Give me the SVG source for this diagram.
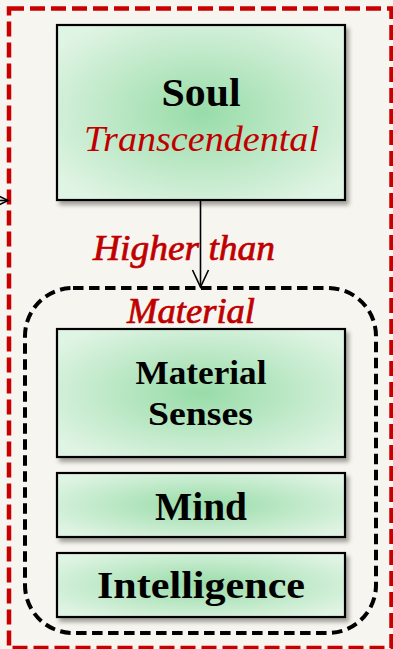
<svg xmlns="http://www.w3.org/2000/svg" width="393" height="649" viewBox="0 0 393 649">
<defs>
<radialGradient id="g" cx="0.5" cy="0.5" r="0.62">
<stop offset="0" stop-color="#98dca8"/>
<stop offset="1" stop-color="#e0f4e4"/>
</radialGradient>
<filter id="sh" x="-10%" y="-10%" width="125%" height="130%">
<feDropShadow dx="3" dy="4" stdDeviation="2" flood-color="#000" flood-opacity="0.35"/>
</filter>
<marker id="ah" viewBox="0 0 20 20" refX="18" refY="10" markerWidth="20" markerHeight="20" markerUnits="userSpaceOnUse" orient="auto">
<path d="M1,2 L18,10 L1,18" fill="none" stroke="#000" stroke-width="1.6"/>
</marker>
</defs>
<style>
.box{fill:url(#g);stroke:#000;stroke-width:2.2;filter:url(#sh)}
.t{font-family:"Liberation Serif",serif;font-weight:bold;fill:#000;text-anchor:middle}
.r{font-family:"Liberation Serif",serif;font-style:italic;fill:#c00000;text-anchor:middle}
.rb{stroke:#c00000;stroke-width:0.7}
.con{fill:none;stroke:#000;stroke-width:1.6}
</style>
<rect x="0" y="0" width="393" height="649" fill="#f7f5ef"/>
<g id="outer">
<rect x="9" y="8.5" width="382.5" height="639.5" fill="none" stroke="#c80000" stroke-width="4.5" stroke-dasharray="15 6"/>
</g>
<g id="material-group">
<rect x="25" y="288" width="351" height="345" rx="48" ry="48" fill="none" stroke="#000" stroke-width="4" stroke-dasharray="10.5 5.5"/>
</g>
<g id="connectors">
<line class="con" x1="200.5" y1="200" x2="200.5" y2="287" marker-end="url(#ah)"/>
<line class="con" x1="-6" y1="200.5" x2="8" y2="200.5" marker-end="url(#ah)"/>
</g>
<g id="soul">
<rect class="box" x="57" y="25" width="288" height="175"/>
<text class="t" x="201" y="106" font-size="40" textLength="79" lengthAdjust="spacingAndGlyphs">Soul</text>
<text class="r" x="201.5" y="151" font-size="36" textLength="235" lengthAdjust="spacingAndGlyphs">Transcendental</text>
</g>
<g id="label-higher">
<text class="r rb" x="184" y="260" font-size="35" textLength="182" lengthAdjust="spacingAndGlyphs">Higher than</text>
<text class="r rb" x="191" y="323" font-size="35" textLength="128" lengthAdjust="spacingAndGlyphs">Material</text>
</g>
<g id="senses">
<rect class="box" x="57" y="329" width="288" height="128"/>
<text class="t" x="201" y="384" font-size="34" textLength="131" lengthAdjust="spacingAndGlyphs">Material</text>
<text class="t" x="200.5" y="425" font-size="34" textLength="105" lengthAdjust="spacingAndGlyphs">Senses</text>
</g>
<g id="mind">
<rect class="box" x="57" y="473" width="288" height="64"/>
<text class="t" x="201" y="520" font-size="39" textLength="92" lengthAdjust="spacingAndGlyphs">Mind</text>
</g>
<g id="intelligence">
<rect class="box" x="57" y="553" width="288" height="64"/>
<text class="t" x="201" y="598" font-size="38" textLength="208" lengthAdjust="spacingAndGlyphs">Intelligence</text>
</g>
</svg>
